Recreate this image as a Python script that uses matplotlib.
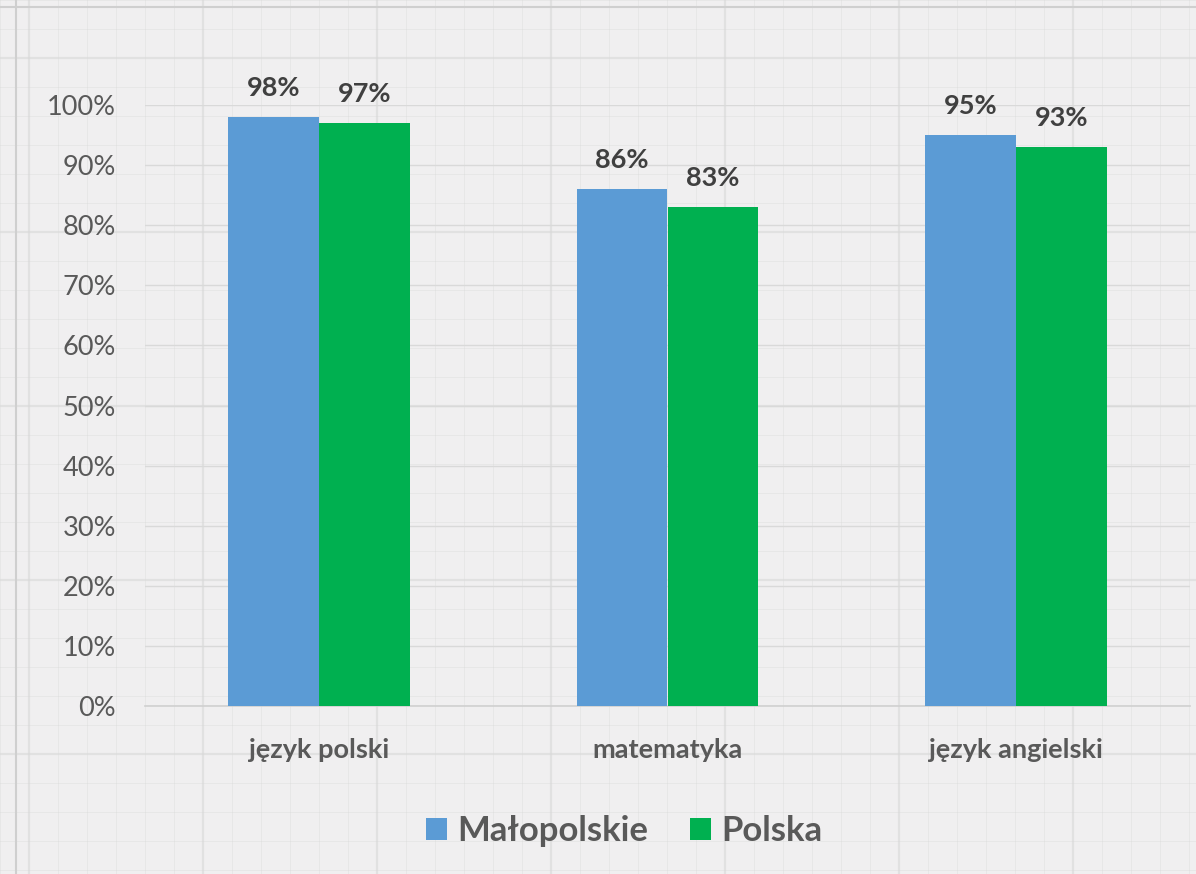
import matplotlib
matplotlib.use('Agg')
import matplotlib.pyplot as plt
import numpy as np

plt.rcParams.update({
    'font.family': ['Lato', 'DejaVu Sans'],
})

# data
categories = ['język polski', 'matematyka', 'język angielski']
malopolskie = [0.98, 0.86, 0.95]
polska = [0.97, 0.83, 0.93]
series_names = ['Małopolskie', 'Polska']

C_BLUE = '#5B9BD5'
C_GREEN = '#00B050'
C_TEXT = '#595959'
C_LABEL = '#404040'

W, H = 1196, 874
fig = plt.figure(figsize=(W / 100, H / 100), dpi=100)
fig.patch.set_facecolor('#F0EFF0')

# grid-paper background texture
bg = fig.add_axes([0, 0, 1, 1], zorder=-10)
bg.set_xlim(0, W)
bg.set_ylim(H, 0)
bg.axis('off')
for i, x in enumerate(range(0, W, 29)):
    bg.axvline(x, color='#D8D8D8', lw=1.6 if i % 6 == 1 else 0.7, alpha=0.6 if i % 6 == 1 else 0.35)
for i, y in enumerate(range(0, H, 29)):
    bg.axhline(y, color='#D8D8D8', lw=1.6 if i % 6 == 2 else 0.7, alpha=0.6 if i % 6 == 2 else 0.35)
bg.axvline(16, color='#CFCFCF', lw=1.5)
bg.axhline(7, color='#CFCFCF', lw=1.5)

ax = fig.add_axes([145 / W, 1 - 706 / H, (1190 - 145) / W, (706 - 105) / H])
ax.set_facecolor('none')

x = np.arange(len(categories))
bw = 0.261
b1 = ax.bar(x - bw / 2, malopolskie, bw, color=C_BLUE, label=series_names[0], zorder=3)
b2 = ax.bar(x + bw / 2, polska, bw, color=C_GREEN, label=series_names[1], zorder=3)

for bars, vals in ((b1, malopolskie), (b2, polska)):
    for r, v in zip(bars, vals):
        ax.text(r.get_x() + r.get_width() / 2, v + 0.028, f'{v * 100:.0f}%',
                ha='center', va='bottom', fontsize=19.5, fontweight='bold',
                color=C_LABEL, clip_on=False)

ax.set_xlim(-0.5, 2.5)
ax.set_ylim(0, 1.0)
ax.set_yticks(np.arange(0, 1.01, 0.1))
ax.set_yticklabels([f'{int(round(t * 100))}%' for t in np.arange(0, 1.01, 0.1)])
ax.set_xticks(x)
ax.set_xticklabels(categories, fontweight='bold')
ax.tick_params(axis='y', length=0, pad=21, labelsize=19.5, labelcolor=C_TEXT)
ax.tick_params(axis='x', length=0, pad=23, labelsize=19.5, labelcolor=C_TEXT)
ax.grid(axis='y', color='#D9D9D9', lw=1.0, zorder=0)
for s in ('top', 'right', 'left'):
    ax.spines[s].set_visible(False)
ax.spines['bottom'].set_color('#D0D0D0')
ax.spines['bottom'].set_linewidth(1.2)

leg = fig.legend(loc='center', bbox_to_anchor=(624 / W, 1 - 831 / H), ncol=2,
                 frameon=False, handlelength=0.6, handleheight=0.6,
                 handletextpad=0.3, columnspacing=1.2,
                 prop={'size': 25, 'weight': 'bold'})
for t in leg.get_texts():
    t.set_color(C_TEXT)

fig.savefig('out.png', dpi=100, facecolor=fig.get_facecolor())
